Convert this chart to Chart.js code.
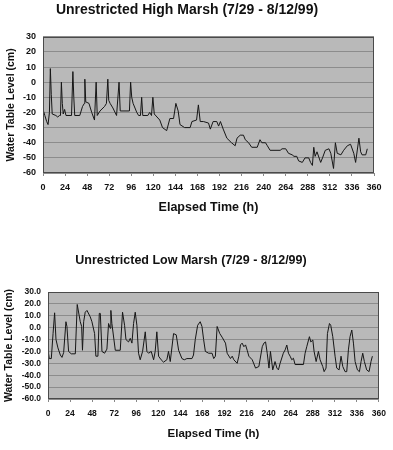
<!DOCTYPE html>
<html>
<head>
<meta charset="utf-8">
<title>Unrestricted marsh water table level</title>
<script src="https://cdn.jsdelivr.net/npm/chart.js@4.4.0/dist/chart.umd.min.js"></script>
<style>
  body { margin: 0; background: #fff; }
  canvas { display: block; }
</style>
</head>
<body>
<canvas id="highMarshChart" width="393" height="225"></canvas>
<canvas id="lowMarshChart" width="393" height="225"></canvas>
<script>
// Values: elapsed time (h) and water table level (cm)
const highHours = [0, 2, 4, 5.5, 7, 8, 9, 10, 14, 16, 18, 19, 20, 21, 22, 23.5, 25, 31, 32.5, 33.5, 34.5,
  40, 43, 45, 45.5, 46.5, 50, 53, 56, 57.8, 59, 62, 67, 69, 70.5, 71.5, 73, 76, 80, 82.7, 84, 94, 95.3,
  96.5, 98, 102, 104, 106, 107.3, 108.5, 114, 116, 118, 119.5, 121, 124, 127, 130, 134.5, 138, 142,
  144.5, 147, 149, 154, 160, 162, 167, 169, 171, 174.5, 180, 182, 185, 189, 191, 193, 196, 200, 205,
  209, 211, 214.5, 218, 220, 223.6, 227, 233, 236, 238, 242, 244, 247, 258, 260, 264, 267, 271, 273,
  276, 278, 282, 285, 289, 291, 293, 294.5, 296, 298, 302, 304, 307, 311, 313, 316, 318, 320, 324,
  327, 331, 334.5, 338, 340, 343.6, 345.5, 347, 351, 352.7];
const highLevel = [-18, -22, -26, -28, -20, 9, -8, -21, -22, -23, -22, -22, 0, -14, -21, -18, -22, -22, 7, -10, -22,
  -22, -16, -14, 2, -13, -14, -20, -25, 0, -22, -19, -16, -14, 2, -12, -14, -17, -22, 0, -19, -19, 0,
  -10, -14, -20, -22, -22, -10, -22, -22, -20, -22, -10, -21, -23, -25, -30, -32, -24, -24,
  -14, -19, -28, -30, -30, -26, -25, -15, -26, -26, -27, -31, -26, -26, -29, -26, -31, -37, -40,
  -42, -37, -35, -35, -38, -40, -43, -43, -38, -40, -40, -42, -45, -45, -44, -44, -47, -48, -49,
  -49, -52, -53, -50, -50, -53, -55, -43, -49, -46, -53, -50, -45, -44, -47, -57, -40, -47, -48,
  -45, -42, -41, -47, -53, -37, -46, -48, -48, -44];

const lowHours = [0, 1.4, 3.6, 5.5, 7.2, 8.7, 10.8, 13.4, 15.2, 17, 19.5, 20.6, 22.4, 25.3, 29.7, 31.8, 35.1,
  36.6, 37.5, 38.8, 40.5, 42.4, 46, 47.8, 50.7, 52.1, 54.3, 55.8, 56.9, 58.7, 61.6, 64.1, 65.9, 67.7,
  68.4, 69.5, 73.2, 78.6, 81.1, 83.3, 84.8, 87.6, 89.5, 91.3, 93.1, 94.9, 96.7, 98.5, 100.3, 102.9,
  105.8, 107.6, 109.4, 112.3, 114.9, 116.6, 118.4, 120.3, 123.1, 125.7, 129.3, 131.1, 133, 136.6,
  139.5, 142.1, 145.7, 148.3, 151.1, 156.6, 158.3, 160.2, 162.8, 165.6, 167.5, 169.3, 171.2, 174.8,
  178.5, 180.3, 182.1, 184, 186.9, 189.4, 193.1, 194.9, 198.5, 200.4, 202.2, 205.8, 207.6, 209.4,
  211.2, 213.1, 214.9, 216.7, 218.5, 222.2, 225.8, 229.4, 233.1, 234.9, 236.7, 238.5, 240.4, 242,
  244.5, 247, 249, 250.7, 252.5, 256, 258, 259.8, 261.6, 263.4, 265.2, 267, 268.8, 277.9, 279.7,
  281.5, 284.4, 285.9, 288.1, 289.5, 291.7, 294.2, 296, 298.9, 300.4, 302.5, 304, 306.2, 307.6,
  309.8, 312.3, 314.1, 316.7, 318.8, 320.7, 323.2, 325, 326.8, 328.6, 330.5, 332.3, 334.1, 336.6,
  338.8, 340.6, 342.4, 344.2, 346.7, 349.3, 351.4, 352.9];
const lowLevel = [-19, -26, -26, -5, 12.5, -10, -17, -23, -25, -21, 5, 1, -20, -22, -22, 19.5, 5,
  1, -19, 5, 13, 14.5, 9, 5, -5, -24, -24, 12, 12, -20, -21.5, -18, 3.5, -0.5,
  14.5, 3.5, -19, -19, 13, 2, -10, -12, -9, -13, 3.5, 13, 2, -21.5, -27, -20,
  -3.5, -20, -21.5, -20, -27, -20, -3.5, -24, -27, -29, -27, -20, -28.5, -5,
  -6, -19, -26, -27, -26, -26, -23, -10, 2, 5, 1, -10, -20, -21.5,
  -21.5, -26, -24, 1, -5, -8, -13, -21.5, -26, -24, -27, -30, -24, -14.5,
  -13, -16, -14.5, -19, -24, -27, -34, -32.7, -16, -13, -12, -21.5, -34, -20,
  -35.5, -28.5, -34, -35.5, -30, -21.5, -18.7, -14.6, -21.5, -24, -27, -25.7, -31, -31, -21.5,
  -16, -7.6, -12, -10.4, -20, -28.5, -20, -27, -32.7, -37, -34, -5, 3.5, 2,
  -7.6, -24, -34, -35.5, -24, -32.7, -37, -37, -18.7, -7.6, -2, -13, -28.5, -35.5,
  -37, -28.5, -21.5, -28.5, -35.5, -37, -28.5, -24];

// Tick labels
const hourTicks = [0, 24, 48, 72, 96, 120, 144, 168, 192, 216, 240, 264, 288, 312, 336, 360];
const levelTicks = [30, 20, 10, 0, -10, -20, -30, -40, -50, -60];

const FONT = "'Liberation Sans', Arial, sans-serif";

// Gray plot background and dark frame round the chart area
const plotFrame = {
    id: 'plotFrame',
    beforeDraw(chart) {
        const { ctx, chartArea: a } = chart;
        ctx.save();
        ctx.fillStyle = '#b9b9b9';
        ctx.fillRect(a.left, a.top, a.width, a.height);
        ctx.restore();
    },
    afterDraw(chart) {
        const { ctx, chartArea: a } = chart;
        ctx.save();
        ctx.strokeStyle = '#4a4a4a';
        ctx.lineWidth = 1;
        ctx.strokeRect(Math.round(a.left) + 0.5, Math.round(a.top) + 0.5,
            Math.round(a.width) - 1, Math.round(a.height) - 1);
        ctx.restore();
    }
};

function makeChart(canvasId, hours, levels, s) {
    const ctx = document.getElementById(canvasId).getContext('2d');
    return new Chart(ctx, {
        type: 'line',
        data: {
            datasets: [{
                data: hours.map((h, i) => ({ x: h, y: levels[i] })),
                borderColor: '#161616',
                borderWidth: 1,
                pointRadius: 0,
                tension: 0,
                fill: false
            }]
        },
        options: {
            responsive: false,
            animation: false,
            layout: { padding: { top: 0, left: s.padLeft, right: s.padRight, bottom: 0 } },
            plugins: {
                legend: { display: false },
                tooltip: { enabled: false },
                title: {
                    display: true,
                    text: s.title,
                    color: '#111',
                    font: { family: FONT, size: s.titleSize, weight: 'bold' },
                    padding: { top: s.titleTop, bottom: s.titleBottom }
                }
            },
            scales: {
                x: {
                    type: 'linear',
                    min: 0,
                    max: 360,
                    afterBuildTicks: scale => { scale.ticks = hourTicks.map(v => ({ value: v })); },
                    afterFit: scale => { scale.height = s.xHeight; },
                    grid: { drawOnChartArea: false, drawTicks: true, tickLength: 3, color: '#888' },
                    border: { display: false },
                    ticks: {
                        color: '#111',
                        padding: s.xTickPad,
                        maxRotation: 0,
                        autoSkip: false,
                        font: { family: FONT, size: s.tickSize, weight: 'bold' }
                    },
                    title: {
                        display: true,
                        text: 'Elapsed Time (h)',
                        color: '#111',
                        font: { family: FONT, size: s.xTitleSize, weight: 'bold' },
                        padding: { top: 0, bottom: s.xTitlePad }
                    }
                },
                y: {
                    min: -60,
                    max: 30,
                    afterBuildTicks: scale => { scale.ticks = levelTicks.map(v => ({ value: v })); },
                    afterFit: scale => { scale.width = s.yWidth; },
                    grid: { color: '#8c8c8c', lineWidth: 1, drawTicks: false },
                    border: { display: false },
                    ticks: {
                        color: '#111',
                        padding: 7,
                        autoSkip: false,
                        font: { family: FONT, size: s.tickSize, weight: 'bold' },
                        callback: v => s.decimals ? v.toFixed(1) : String(v)
                    },
                    title: {
                        display: true,
                        text: 'Water Table Level (cm)',
                        color: '#111',
                        font: { family: FONT, size: 10.5, weight: 'bold' },
                        padding: { top: s.yTitlePad, bottom: 0 }
                    }
                }
            }
        },
        plugins: [plotFrame]
    });
}

const highMarshChart = makeChart('highMarshChart', highHours, highLevel, {
    title: 'Unrestricted High Marsh (7/29 - 8/12/99)',
    titleSize: 14, titleTop: 2, titleBottom: 18,
    padLeft: 0, padRight: 19,
    yWidth: 43, xHeight: 52,
    tickSize: 9, xTickPad: 6,
    xTitleSize: 12.5, xTitlePad: 10,
    yTitlePad: 5, decimals: false
});

const lowMarshChart = makeChart('lowMarshChart', lowHours, lowLevel, {
    title: 'Unrestricted Low Marsh (7/29 - 8/12/99)',
    titleSize: 12.5, titleTop: 28, titleBottom: 24,
    padLeft: 3, padRight: 14,
    yWidth: 45, xHeight: 51,
    tickSize: 8.5, xTickPad: 7,
    xTitleSize: 11.5, xTitlePad: 9,
    yTitlePad: 0, decimals: true
});
</script>
</body>
</html>
